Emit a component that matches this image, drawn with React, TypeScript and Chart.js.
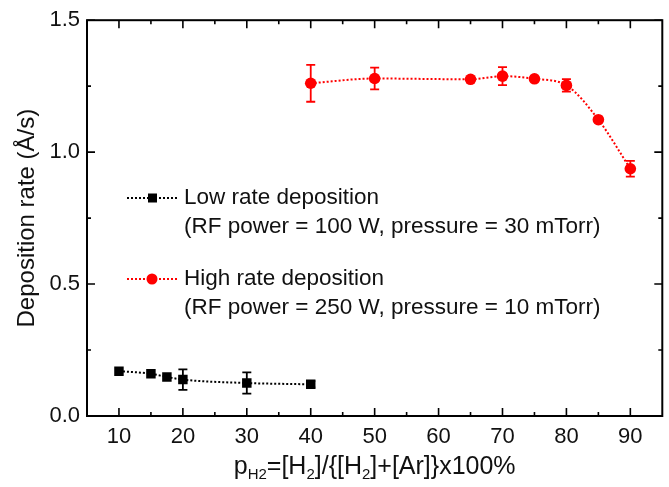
import { useEffect, useRef } from "react";
import { Chart, registerables } from "chart.js";

Chart.register(...registerables);

// ---- data ----
const lowX = [10, 15, 17.5, 20, 30, 40];
const lowY = [0.17, 0.16, 0.148, 0.138, 0.125, 0.12];
const lowErr = [0, 0, 0, 0.039, 0.04, 0.012];

const highX = [40, 50, 65, 70, 75, 80, 85, 90];
const highY = [1.261, 1.279, 1.276, 1.288, 1.278, 1.253, 1.123, 0.937];
const highErr = [0.07, 0.041, 0, 0.034, 0, 0.024, 0, 0.03];

const xMajor = [10, 20, 30, 40, 50, 60, 70, 80, 90];
const xMinor = [15, 25, 35, 45, 55, 65, 75, 85];
const yMajor = [0, 0.5, 1.0, 1.5];
const yMinor = [0.25, 0.75, 1.25];

const legendTitles = ["Low rate deposition", "High rate deposition"];
const legendNotes = [
  "(RF power = 100 W, pressure = 30 mTorr)",
  "(RF power = 250 W, pressure = 10 mTorr)",
];
const yTitle = "Deposition rate (Å/s)";
// x title pieces: [text, isSubscript]
const xTitleParts: [string, boolean][] = [
  ["p", false],
  ["H2", true],
  ["=[H", false],
  ["2", true],
  ["]/{[H", false],
  ["2", true],
  ["]+[Ar]}x100%", false],
];

const FONT = "'Liberation Sans', Arial, sans-serif";
const BLACK = "#000000";
const RED = "#ff0000";
const TEXT = "#111111";

const errorBars = {
  id: "errorBars",
  afterDatasetsDraw(chart: any) {
    const ctx = chart.ctx;
    const xs = chart.scales.x;
    const ys = chart.scales.y;
    const sets = [
      { x: lowX, y: lowY, e: lowErr, c: BLACK },
      { x: highX, y: highY, e: highErr, c: RED },
    ];
    ctx.save();
    ctx.lineWidth = 1.8;
    sets.forEach((s) => {
      ctx.strokeStyle = s.c;
      s.x.forEach((xv, i) => {
        if (!s.e[i]) return;
        const px = xs.getPixelForValue(xv);
        const p1 = ys.getPixelForValue(s.y[i] + s.e[i]);
        const p2 = ys.getPixelForValue(s.y[i] - s.e[i]);
        ctx.beginPath();
        ctx.moveTo(px, p1);
        ctx.lineTo(px, p2);
        ctx.moveTo(px - 4.5, p1);
        ctx.lineTo(px + 4.5, p1);
        ctx.moveTo(px - 4.5, p2);
        ctx.lineTo(px + 4.5, p2);
        ctx.stroke();
      });
    });
    ctx.restore();
  },
};

const frameAndLabels = {
  id: "frameAndLabels",
  afterDraw(chart: any) {
    const ctx = chart.ctx;
    const xs = chart.scales.x;
    const ys = chart.scales.y;
    const { left, right, top, bottom } = chart.chartArea;
    ctx.save();
    // ticks (inward, all four sides)
    ctx.strokeStyle = BLACK;
    ctx.lineWidth = 1.6;
    ctx.beginPath();
    const xt = (v: number, len: number) => {
      const p = xs.getPixelForValue(v);
      ctx.moveTo(p, bottom);
      ctx.lineTo(p, bottom - len);
      ctx.moveTo(p, top);
      ctx.lineTo(p, top + len);
    };
    const yt = (v: number, len: number) => {
      const p = ys.getPixelForValue(v);
      ctx.moveTo(left, p);
      ctx.lineTo(left + len, p);
      ctx.moveTo(right, p);
      ctx.lineTo(right - len, p);
    };
    xMajor.forEach((v) => xt(v, 8));
    xMinor.forEach((v) => xt(v, 4));
    yMajor.forEach((v) => yt(v, 8));
    yMinor.forEach((v) => yt(v, 4));
    ctx.stroke();
    // frame
    ctx.lineWidth = 2;
    ctx.strokeRect(left, top, right - left, bottom - top);

    // legend
    const rows = [
      { y: 198, c: BLACK, shape: "rect" },
      { y: 279, c: RED, shape: "circle" },
    ];
    rows.forEach((r, i) => {
      ctx.strokeStyle = r.c;
      ctx.fillStyle = r.c;
      ctx.lineWidth = 2;
      ctx.setLineDash([2, 2]);
      ctx.beginPath();
      ctx.moveTo(127, r.y);
      ctx.lineTo(177, r.y);
      ctx.stroke();
      ctx.setLineDash([]);
      if (r.shape === "rect") {
        ctx.fillRect(148, r.y - 4.5, 9, 9);
      } else {
        ctx.beginPath();
        ctx.arc(152, r.y, 5.5, 0, Math.PI * 2);
        ctx.fill();
      }
      ctx.fillStyle = TEXT;
      ctx.font = `22.5px ${FONT}`;
      ctx.textBaseline = "middle";
      ctx.textAlign = "left";
      ctx.fillText(legendTitles[i], 184, r.y);
      ctx.fillText(legendNotes[i], 184, r.y + 29);
    });

    // x axis title with subscripts
    const mainFont = `25px ${FONT}`;
    const subFont = `15px ${FONT}`;
    let total = 0;
    xTitleParts.forEach(([t, sub]) => {
      ctx.font = sub ? subFont : mainFont;
      total += ctx.measureText(t).width;
    });
    let x = (left + right) / 2 - total / 2;
    const base = 474;
    ctx.textBaseline = "alphabetic";
    ctx.fillStyle = TEXT;
    xTitleParts.forEach(([t, sub]) => {
      ctx.font = sub ? subFont : mainFont;
      ctx.fillText(t, x, sub ? base + 5 : base);
      x += ctx.measureText(t).width;
    });
    ctx.restore();
  },
};

export default function App() {
  const ref = useRef<HTMLCanvasElement>(null);
  useEffect(() => {
    document.body.style.margin = "0";
    const chart = new Chart(ref.current!, {
      type: "line",
      data: {
        datasets: [
          {
            label: legendTitles[0],
            data: lowX.map((x, i) => ({ x, y: lowY[i] })),
            borderColor: BLACK,
            backgroundColor: BLACK,
            borderWidth: 2,
            borderDash: [2, 2],
            pointStyle: "rect",
            pointRadius: 6.7,
            pointBorderWidth: 0,
            cubicInterpolationMode: "monotone",
          },
          {
            label: legendTitles[1],
            data: highX.map((x, i) => ({ x, y: highY[i] })),
            borderColor: RED,
            backgroundColor: RED,
            borderWidth: 2,
            borderDash: [2, 2],
            pointStyle: "circle",
            pointRadius: 5.8,
            pointBorderWidth: 0,
            cubicInterpolationMode: "monotone",
          },
        ],
      },
      options: {
        animation: false,
        responsive: true,
        maintainAspectRatio: false,
        layout: { padding: { top: 17, right: 5, left: 0, bottom: 0 } },
        plugins: { legend: { display: false }, tooltip: { enabled: false } },
        scales: {
          x: {
            type: "linear",
            min: 5,
            max: 95,
            afterBuildTicks: (s: any) => {
              s.ticks = xMajor.map((v) => ({ value: v }));
            },
            afterFit: (s: any) => {
              s.height = 71;
            },
            grid: { display: true, drawOnChartArea: false, drawTicks: false },
            border: { display: false },
            ticks: {
              padding: 8,
              color: TEXT,
              font: { family: FONT, size: 22 },
              maxRotation: 0,
              autoSkip: false,
            },
          },
          y: {
            type: "linear",
            min: 0,
            max: 1.5,
            afterBuildTicks: (s: any) => {
              s.ticks = yMajor.map((v) => ({ value: v }));
            },
            afterFit: (s: any) => {
              s.width = 87;
            },
            grid: { display: true, drawOnChartArea: false, drawTicks: false },
            border: { display: false },
            ticks: {
              padding: 7,
              color: TEXT,
              font: { family: FONT, size: 22 },
              callback: (v: any) => Number(v).toFixed(1),
            },
            title: {
              display: true,
              text: yTitle,
              color: TEXT,
              font: { family: FONT, size: 24 },
              padding: { top: 13, bottom: 0 },
            },
          },
        },
      },
      plugins: [errorBars, frameAndLabels],
    });
    return () => chart.destroy();
  }, []);
  return (
    <div style={{ width: 669, height: 487, position: "relative" }}>
      <canvas ref={ref} />
    </div>
  );
}
